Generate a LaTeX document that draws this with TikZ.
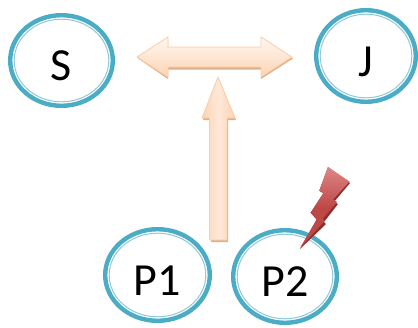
\documentclass[tikz,border=0pt]{standalone}
\usepackage{fontspec}
\setmainfont{Carlito}
\usetikzlibrary{shapes.geometric}
\definecolor{ringblue}{RGB}{75,172,198}
\definecolor{ringpale}{RGB}{140,200,216}
\definecolor{arrowedge}{RGB}{250,205,170}
\definecolor{arrowdark}{RGB}{225,175,135}
\definecolor{arrowlight}{RGB}{255,247,240}
\definecolor{arrowmid}{RGB}{252,212,180}
\definecolor{arrowpale}{RGB}{255,232,216}
\definecolor{boltdark}{RGB}{140,48,46}
\definecolor{boltmid}{RGB}{190,72,70}
\definecolor{boltlight}{RGB}{222,135,135}
\tikzset{
	ring/.style={ellipse,draw=ringblue,line width=4.4pt,inner sep=0pt,
		font=\fontsize{46}{46}\selectfont,text=black,text height=40pt,text depth=0pt},
	ringin/.style={ellipse,draw=ringpale,line width=1pt,inner sep=0pt},
	arrowback/.style={fill=arrowdark,draw=none},
	arrowface/.style={draw=arrowedge,line width=0.8pt},
}
\begin{document}
\begin{tikzpicture}[x=1pt,y=-1pt]
	\useasboundingbox (0,0) rectangle (418,327);
	\foreach \n/\x/\y/\w/\h in {S/61.5/60.5/102.6/90.6, J/366/56/99.6/91.6, P1/157.5/275/104.6/91.6, P2/285/276.5/103.6/92.6} {
		\node [ring,minimum width=\w pt,minimum height=\h pt] (\n) at (\x,\y) {\n};
		\node [ringin,minimum width=\w pt-8pt,minimum height=\h pt-8pt] (\n in) at (\n) {};
	}
	% double arrow
	\path [arrowback] (138,58.5) -- (168,38.5) -- (168,49) -- (261,49) -- (261,38.5) -- (293,58.5) -- (261,79) -- (261,69.5) -- (168,69.5) -- (168,79) -- cycle;
	\path [arrowface,top color=arrowlight,bottom color=arrowmid] (137,57) -- (168,37) -- (168,47) -- (261,47) -- (261,37) -- (292,57) -- (261,77) -- (261,67) -- (168,67) -- (168,77) -- cycle;
	% up arrow
	\path [arrowback] (219,79) -- (236,120) -- (228,120) -- (228,242) -- (211,242) -- (211,120) -- (203,120) -- cycle;
	\path [arrowface,left color=arrowmid,right color=arrowmid,middle color=arrowpale] (218,77) -- (235,118) -- (227,118) -- (227,240) -- (209.5,240) -- (209.5,118) -- (202,118) -- cycle;
	% bolt
	\fill [boltdark] (328,167) -- (350,183) -- (334,202) -- (338,204) -- (324,222) -- (326,224) -- (300,249) -- (316.7,219.5) -- (310.7,212.7) -- (323.3,193.3) -- (319.3,190.7) -- cycle;
	\path [top color=boltlight,bottom color=boltmid,middle color=boltmid] (328,167) -- (349.5,181.5) -- (333,199.5) -- (337,202) -- (323,218.5) -- (324.5,221) -- (300,248) -- (316.7,219.5) -- (310.7,212.7) -- (323.3,193.3) -- (319.3,190.7) -- cycle;
\end{tikzpicture}
\end{document}
